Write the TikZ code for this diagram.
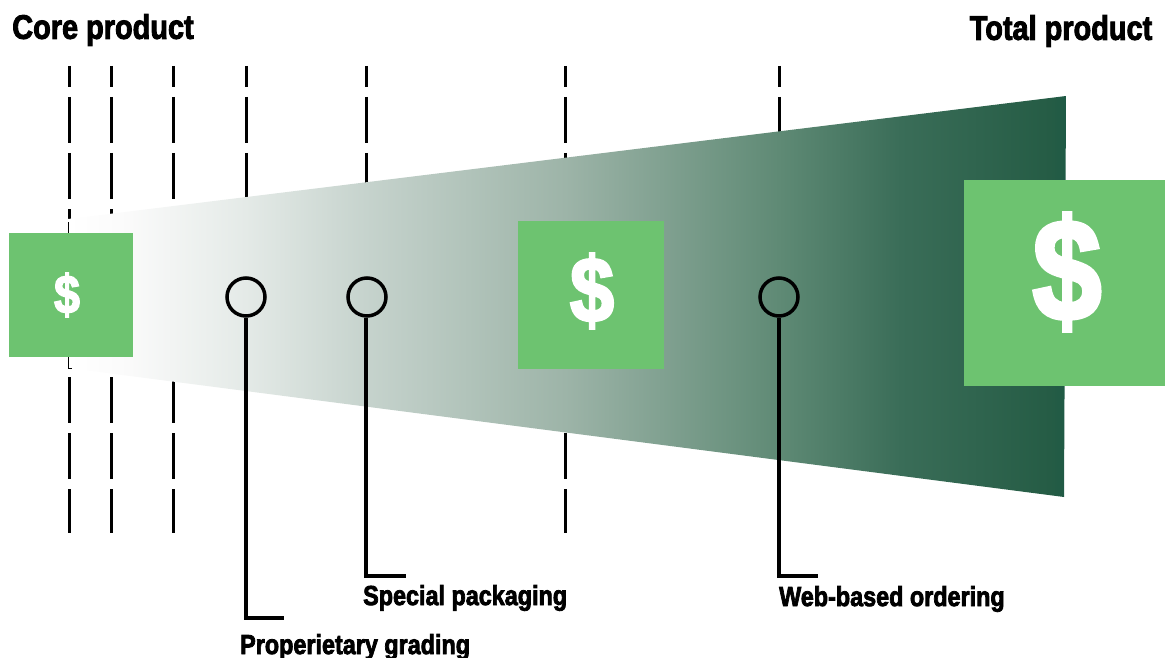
\documentclass[tikz,border=0pt]{standalone}
\usepackage{fontspec}
\setmainfont{Liberation Sans}
\newfontfamily\heavyfont[FakeBold=3]{Liberation Sans Bold}
\definecolor{boxgreen}{HTML}{6DC370}
\definecolor{fadeA}{HTML}{FAFAFA}
\definecolor{fadeB}{HTML}{E4EAE7}
\definecolor{fadeC}{HTML}{C6D3CD}
\definecolor{fadeD}{HTML}{9DB4A8}
\definecolor{fadeE}{HTML}{5F8A75}
\definecolor{fadeF}{HTML}{3A6D58}
\definecolor{fadeG}{HTML}{255C45}
\definecolor{fadeH}{HTML}{1F5A45}
\pgfdeclarehorizontalshading{funnelfade}{100bp}{
  color(0bp)=(white);
  color(25bp)=(white);
  color(28.1bp)=(fadeA);
  color(33.9bp)=(fadeB);
  color(39.9bp)=(fadeC);
  color(49.9bp)=(fadeD);
  color(60.6bp)=(fadeE);
  color(66.7bp)=(fadeF);
  color(74.2bp)=(fadeG);
  color(75bp)=(fadeH);
  color(100bp)=(fadeH)}
\tikzset{
  guide/.style={black,line width=3pt,dash pattern=on 46pt off 10pt,dash phase=25pt},
  stem/.style={black,line width=3.5pt},
  pricebox/.style={fill=boxgreen,draw=none,anchor=north west,inner sep=0pt},
  dollar/.style={white,inner sep=0pt,font=\heavyfont\fontsize{#1}{#1}\selectfont,xscale=.86},
  ring/.style={circle,draw=black,line width=3.5pt,minimum size=38pt,inner sep=0pt},
  tag/.style={black,inner sep=0pt,xscale=.85,font=\heavyfont\fontsize{#1}{#1}\selectfont},
}

\begin{document}
\begin{tikzpicture}[x=1pt,y=-1pt]
\useasboundingbox (0,0) rectangle (1165,658);

\coordinate (top1) at (69,66);
\coordinate (top2) at (111,66);
\coordinate (top3) at (173,66);
\coordinate (top4) at (246,66);
\coordinate (top5) at (366,66);
\coordinate (top6) at (565,66);
\coordinate (top7) at (779,66);
\coordinate (bot1) at (69,533);
\coordinate (bot2) at (111,533);
\coordinate (bot3) at (173,533);
\coordinate (bot4) at (246,300);
\coordinate (bot5) at (366,300);
\coordinate (bot6) at (565,533);
\coordinate (bot7) at (779,300);
\draw[guide] (top1) -- (bot1);
\draw[guide] (top2) -- (bot2);
\draw[guide] (top3) -- (bot3);
\draw[guide] (top4) -- (bot4);
\draw[guide] (top5) -- (bot5);
\draw[guide] (top6) -- (bot6);
\draw[guide] (top7) -- (bot7);

\shade[shading=funnelfade]
  (68,219) -- (1066,96) -- (1064,497) -- (68,368) -- cycle;
\draw[black,line width=.6pt] (68,222) -- (68,368) -- (72,368);

\node[pricebox,minimum width=124pt,minimum height=124pt] (box1) at (9,233) {};
\node[pricebox,minimum width=146pt,minimum height=148pt] (box2) at (518,221) {};
\node[pricebox,minimum width=201pt,minimum height=206pt] (box3) at (964,180) {};
\node[dollar=54] (sign1) at (67,295) {\$};
\node[dollar=92] (sign2) at (592,291) {\$};
\node[dollar=144] (sign3) at (1067,272) {\$};

\node[ring] (ring1) at (246,297) {};
\node[ring] (ring2) at (367,297) {};
\node[ring] (ring3) at (779,297) {};

\node[tag=34] (core) at (103,30) {Core product};
\node[tag=34] (total) at (1061,31) {Total product};
\node[tag=27.5,anchor=west] (grading) at (240,647) {Properietary grading};
\node[tag=27.5,anchor=west] (packaging) at (363,598) {Special packaging};
\node[tag=27.5,anchor=west] (ordering) at (779,599) {Web-based ordering};

\coordinate (end1) at (284,618);
\coordinate (end2) at (406,576);
\coordinate (end3) at (818,576);
\draw[stem] (ring1) |- (end1);
\draw[stem] (ring2.south -| 366,0) |- (end2);
\draw[stem] (ring3) |- (end3);
\end{tikzpicture}
\end{document}
